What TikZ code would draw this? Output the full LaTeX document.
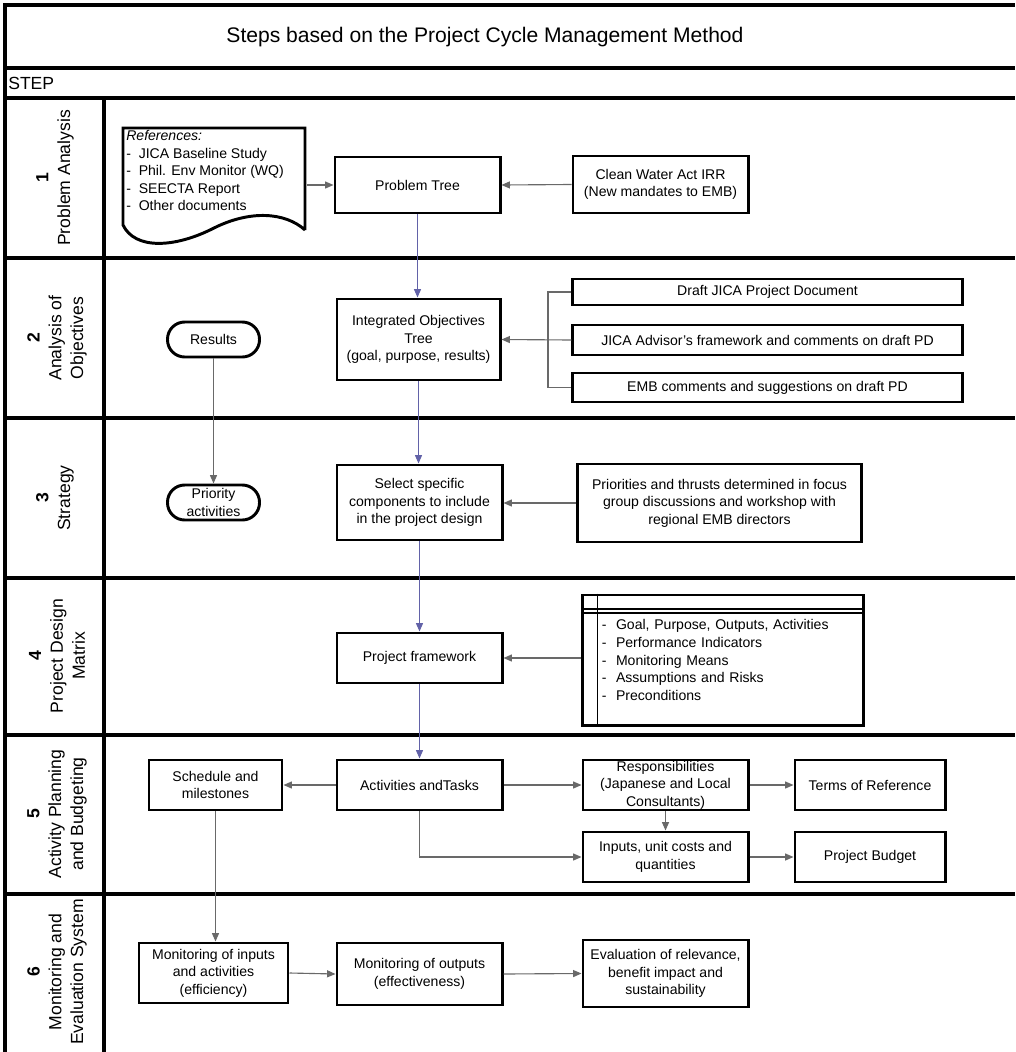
\documentclass[tikz,border=0pt]{standalone}
\usepackage{fontspec}
\setmainfont{Liberation Sans}
\usetikzlibrary{arrows.meta}
\definecolor{flowblue}{RGB}{98,98,168}
\definecolor{flowgray}{RGB}{105,105,105}

\begin{document}
\begin{tikzpicture}[x=0.025cm,y=-0.025cm]
	\tikzstyle{every node}=[font=\fontsize{10}{12.5}\selectfont]
	\tikzstyle{gridline}=[line width=2.3pt]
	\tikzstyle{boxline}=[line width=2.1pt]
	\tikzstyle{box}=[draw,rectangle,boxline,align=center,inner sep=0pt,minimum width=4.125cm,minimum height=1.25cm]
	\tikzstyle{pill}=[box,rounded corners=0.43cm,minimum width=2.3cm,minimum height=0.875cm]
	\tikzstyle{steplabel}=[rotate=90,align=center,font=\fontsize{12.5}{15.5}\selectfont]
	\tikzstyle{flowline}=[color=flowgray,line width=0.8pt]
	\tikzstyle{flow}=[flowline,-{Triangle[length=6pt,width=5pt]}]
	\tikzstyle{mainflow}=[flow,color=flowblue]

	\useasboundingbox (0,0) rectangle (1015,1052);
	\fill[white] (0,0) rectangle (1015,1052);

	\draw[gridline] (5,1052) -- (5,5) -- (1015,5);
	\foreach \y in {68,98,258,418,578,735,894}
		\draw[gridline] (5,\y) -- (1015,\y);
	\draw[gridline] (104,98) -- (104,1052);

	\node[font=\fontsize{15}{18}\selectfont] (title) at (485,37) {Steps based on the Project Cycle Management Method};
	\node[anchor=west,inner sep=0pt,font=\fontsize{12.5}{15}\selectfont] (step) at (8,83) {STEP};

	\node[steplabel] (lab1) at (55,178) {\textbf{1}\\Problem Analysis};
	\node[steplabel] (lab2) at (57,338) {\textbf{2}\\Analysis of\\Objectives};
	\node[steplabel] (lab3) at (55,498) {\textbf{3}\\Strategy};
	\node[steplabel] (lab4) at (57,656) {\textbf{4}\\Project Design\\Matrix};
	\node[steplabel] (lab5) at (57,814) {\textbf{5}\\Activity Planning\\and Budgeting};
	\node[steplabel] (lab6) at (57,972) {\textbf{6}\\Monitoring and\\Evaluation System};

	\draw[boxline] (305,230) -- (305,128) -- (123,128) -- (123,225)
		.. controls (135,250) and (175,248) .. (214,228)
		.. controls (250,210) and (285,212) .. (305,230);
	\node[anchor=north west,align=left,inner sep=0pt] (refs) at (126,130) {\textit{References:}\\-\ \ JICA Baseline Study\\-\ \ Phil. Env Monitor (WQ)\\-\ \ SEECTA Report\\-\ \ Other documents};
	\coordinate (refsout) at (307,185);

	\node[box,minimum height=1.4cm] (probtree) at (417.5,185) {Problem Tree};
	\node[box,minimum width=4.375cm,minimum height=1.425cm] (cleanwater) at (660.5,184.5) {Clean Water Act IRR\\(New mandates to EMB)};

	\node[pill] (results) at (213.5,339.5) {Results};
	\node[box,minimum width=4.075cm,minimum height=2.025cm] (objtree) at (418.5,339.5) {Integrated Objectives\\Tree\\(goal, purpose, results)};
	\node[box,minimum width=9.725cm,minimum height=0.65cm] (draftpd) at (767.5,292) {Draft JICA Project Document};
	\node[box,minimum width=9.725cm,minimum height=0.75cm] (advisor) at (767.5,340) {JICA Advisor's framework and comments on draft PD};
	\node[box,minimum width=9.725cm,minimum height=0.725cm] (embpd) at (767.5,387.5) {EMB comments and suggestions on draft PD};
	\coordinate (brk) at (548,340);

	\node[pill] (priority) at (213.5,502.5) {Priority\\activities};
	\node[box,minimum height=1.875cm] (select) at (419.5,502.5) {Select specific\\components to include\\in the project design};
	\node[box,minimum width=7.075cm,minimum height=1.95cm] (priorities) at (719.5,503) {Priorities and thrusts determined in focus\\group discussions and workshop with\\regional EMB directors};

	\node[box] (framework) at (419.5,658) {Project framework};
	\node[box,minimum width=7cm,minimum height=3.25cm,text width=6.05cm,inner xsep=0.475cm,align=left] (pdm) at (723,660) {-\ \ Goal, Purpose, Outputs, Activities\\-\ \ Performance Indicators\\-\ \ Monitoring Means\\-\ \ Assumptions and Risks\\-\ \ Preconditions};
	\draw[line width=1.4pt] ([xshift=0.4cm]pdm.north west) -- ([xshift=0.4cm]pdm.south west);
	\draw[line width=1.4pt] ([yshift=-0.375cm]pdm.north west) -- ([yshift=-0.375cm]pdm.north east);
	\draw[line width=1.4pt] ([yshift=-0.475cm]pdm.north west) -- ([yshift=-0.475cm]pdm.north east);

	\node[box,minimum width=3.325cm] (schedule) at (215.5,785) {Schedule and\\milestones};
	\node[box] (activities) at (419.5,785) {Activities andTasks};
	\node[box] (resp) at (665.5,785) {Responsibilities\\(Japanese and Local\\Consultants)};
	\node[box,minimum width=3.75cm] (tor) at (870,785) {Terms of Reference};
	\node[box] (inputs) at (665.5,857) {Inputs, unit costs and\\quantities};
	\node[box,minimum width=3.75cm] (budget) at (870,857) {Project Budget};

	\node[box,minimum width=3.725cm,minimum height=1.5cm] (moninputs) at (213.5,973) {Monitoring of inputs\\and activities\\(efficiency)};
	\node[box,minimum height=1.55cm] (monoutputs) at (419.5,974) {Monitoring of outputs\\(effectiveness)};
	\node[box,minimum height=1.675cm] (evaluation) at (665.5,973.5) {Evaluation of relevance,\\benefit impact and\\sustainability};

	\draw[flow] (refsout) -- (probtree.west);
	\draw[flow] (cleanwater.west) -- (probtree.east);
	\draw[mainflow] (probtree.south) -- (probtree.south |- objtree.north);
	\draw[flowline] (draftpd.west) -| (brk) |- (embpd.west);
	\draw[flow] (advisor.west) -- (objtree.east);
	\draw[flow] (results.south) -- (priority.north);
	\draw[mainflow] (objtree.south) -- (objtree.south |- select.north);
	\draw[flow] (priorities.west) -- (priorities.west -| select.east);
	\draw[mainflow] (select.south) -- (framework.north);
	\draw[flow] (pdm.west |- framework) -- (framework.east);
	\draw[mainflow] (framework.south) -- (activities.north);
	\draw[flow] (activities.west) -- (schedule.east);
	\draw[flow] (activities.east) -- (resp.west);
	\draw[flow] (resp.east) -- (tor.west);
	\draw[flow] (resp.south) -- (inputs.north);
	\draw[flow] (activities.south) |- (inputs.west);
	\draw[flow] (inputs.east) -- (budget.west);
	\draw[flow] (schedule.south) -- (schedule.south |- moninputs.north);
	\draw[flow] (moninputs.east) -- (monoutputs.west);
	\draw[flow] (monoutputs.east) -- (evaluation.west);
\end{tikzpicture}
\end{document}
